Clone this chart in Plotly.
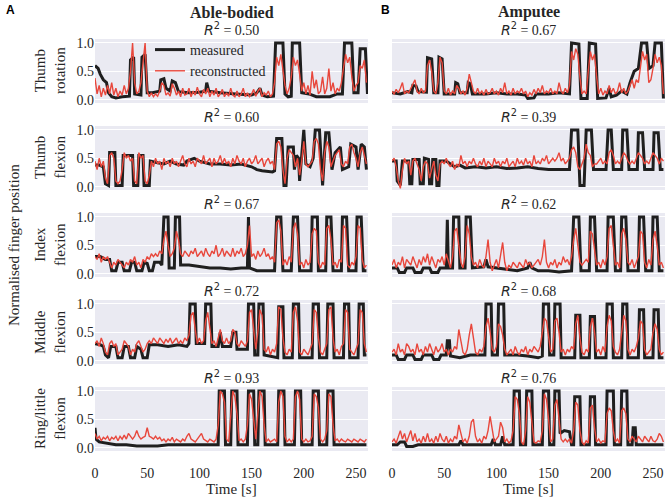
import plotly.graph_objects as go

# sampling grid of the reconstructed traces (seconds)
T = list(range(0, 261, 2))

ROW_LABELS = ["Thumb<br>rotation", "Thumb<br>flexion", "Index<br>flexion",
              "Middle<br>flexion", "Ring/little<br>flexion"]
R2_ABLE = ["0.50", "0.60", "0.67", "0.72", "0.93"]
R2_AMP = ["0.67", "0.39", "0.62", "0.68", "0.76"]
X_TICKS = [0, 50, 100, 150, 200, 250]
Y_TICKS = [0.0, 0.5, 1.0]

# measured: (time, value) breakpoints of the recorded glove signal
able_rot_meas = [(0, 0.6), (3, 0.55), (5, 0.45), (8, 0.35), (11, 0.3), (13, 0.12), (16, 0.05), (20, 0.03), (26, 0.05),
                 (33, 0.06), (34, 0.7), (37, 0.75), (38, 0.1), (44, 0.08), (45, 0.75), (48, 0.8), (50, 0.12), (55, 0.12),
                 (62, 0.15), (63, 0.35), (66, 0.37), (68, 0.2), (72, 0.15), (74, 0.33), (77, 0.3), (80, 0.14), (90, 0.12),
                 (100, 0.13), (106, 0.15), (107, 0.3), (109, 0.15), (120, 0.12), (135, 0.1), (145, 0.08), (150, 0.08),
                 (155, 0.12), (158, 0.2), (160, 0.08), (165, 0.05), (171, 0.06), (173, 1.0), (180, 1.0), (182, 0.1),
                 (185, 0.05), (188, 0.06), (189, 1.0), (196, 1.0), (198, 0.12), (205, 0.1), (212, 0.05), (225, 0.05),
                 (232, 0.1), (237, 0.1), (239, 1.0), (246, 1.0), (248, 0.12), (252, 0.12), (254, 0.9), (259, 0.9), (261, 0.1)]
able_rot_rec = [0.38, 0.10, 0.25, 0.05, 0.20, 0.08, 0.25, 0.10, 0.30, 0.08,
                0.20, 0.05, 0.15, 0.08, 0.25, 0.10, 0.20, 0.50, 1.00, 0.30,
                0.10, 0.15, 0.30, 0.70, 1.00, 0.15, 0.05, 0.12, 0.05, 0.10,
                0.06, 0.15, 0.30, 0.25, 0.08, 0.12, 0.06, 0.28, 0.20, 0.08,
                0.15, 0.05, 0.20, 0.08, 0.10, 0.20, 0.05, 0.15, 0.08, 0.22,
                0.10, 0.05, 0.18, 0.10, 0.20, 0.05, 0.15, 0.08, 0.20, 0.05,
                0.10, 0.18, 0.05, 0.12, 0.06, 0.20, 0.08, 0.05, 0.15, 0.05,
                0.10, 0.20, 0.05, 0.12, 0.05, 0.10, 0.18, 0.06, 0.15, 0.20,
                0.05, 0.12, 0.08, 0.15, 0.05, 0.10, 0.30, 0.75, 0.60, 0.80,
                0.50, 0.25, 0.10, 0.20, 0.40, 0.75, 0.60, 0.70, 0.45, 0.15,
                0.30, 0.10, 0.25, 0.08, 0.50, 0.20, 0.35, 0.10, 0.15, 0.40,
                0.10, 0.20, 0.55, 0.15, 0.30, 0.10, 0.20, 0.15, 0.30, 0.60,
                0.80, 0.65, 0.75, 0.40, 0.15, 0.25, 0.30, 0.60, 0.55, 0.70,
                0.30]

amp_rot_meas = [(0, 0.12), (8, 0.1), (15, 0.14), (19, 0.12), (20, 0.25), (23, 0.24), (25, 0.14), (33, 0.13), (34, 0.74),
                (38, 0.72), (40, 0.12), (44, 0.12), (45, 0.75), (48, 0.72), (50, 0.1), (60, 0.1), (61, 0.3), (63, 0.28),
                (65, 0.12), (72, 0.12), (73, 0.3), (75, 0.28), (77, 0.1), (90, 0.1), (100, 0.12), (110, 0.1), (120, 0.1),
                (128, 0.08), (130, 0.02), (136, 0.03), (138, 0.1), (150, 0.1), (160, 0.12), (170, 0.1), (172, 1.0),
                (179, 0.98), (181, 0.02), (187, 0.02), (189, 1.0), (195, 0.98), (197, 0.02), (205, 0.03), (208, 0.2),
                (210, 0.05), (215, 0.08), (220, 0.15), (225, 0.1), (228, 0.3), (232, 0.5), (236, 0.55), (239, 1.0),
                (244, 1.0), (246, 0.55), (250, 0.6), (252, 1.0), (258, 1.0), (260, 0.02)]
amp_rot_rec = [0.15, 0.10, 0.18, 0.12, 0.20, 0.30, 0.10, 0.15, 0.12, 0.20,
               0.30, 0.35, 0.15, 0.10, 0.20, 0.12, 0.15, 0.60, 0.70, 0.50,
               0.15, 0.10, 0.30, 0.75, 0.65, 0.15, 0.10, 0.20, 0.08, 0.15,
               0.10, 0.25, 0.20, 0.10, 0.15, 0.08, 0.20, 0.45, 0.30, 0.15,
               0.10, 0.20, 0.10, 0.15, 0.08, 0.18, 0.10, 0.12, 0.20, 0.10,
               0.15, 0.08, 0.20, 0.12, 0.30, 0.10, 0.15, 0.08, 0.20, 0.10,
               0.15, 0.12, 0.20, 0.10, 0.15, 0.05, 0.12, 0.08, 0.18, 0.10,
               0.20, 0.12, 0.25, 0.10, 0.15, 0.12, 0.20, 0.10, 0.15, 0.10,
               0.30, 0.15, 0.10, 0.20, 0.12, 0.25, 0.85, 0.70, 0.90, 0.80,
               0.40, 0.10, 0.15, 0.10, 0.50, 0.85, 0.70, 0.80, 0.40, 0.10,
               0.20, 0.08, 0.15, 0.10, 0.25, 0.12, 0.20, 0.10, 0.15, 0.30,
               0.12, 0.20, 0.10, 0.15, 0.25, 0.35, 0.20, 0.35, 0.30, 0.60,
               0.85, 0.70, 0.80, 0.30, 0.35, 0.55, 0.80, 0.65, 0.75, 0.60,
               0.10]

able_tfl_meas = [(0, 0.38), (4, 0.38), (8, 0.35), (10, 0.05), (13, 0.02), (14, 0.6), (19, 0.6), (20, 0.02), (26, 0.02),
                 (27, 0.55), (36, 0.55), (37, 0.02), (41, 0.02), (42, 0.55), (46, 0.55), (47, 0.02), (52, 0.02),
                 (53, 0.45), (60, 0.42), (66, 0.4), (72, 0.45), (78, 0.4), (85, 0.38), (88, 0.45), (95, 0.5), (100, 0.45),
                 (110, 0.4), (120, 0.4), (130, 0.38), (140, 0.4), (150, 0.35), (155, 0.3), (160, 0.28), (170, 0.26),
                 (172, 0.28), (174, 0.85), (179, 0.85), (181, 0.02), (183, 0.02), (185, 0.7), (190, 0.7), (191, 0.3),
                 (193, 0.55), (195, 0.5), (196, 0.1), (198, 0.5), (200, 1.0), (202, 0.4), (206, 0.35), (209, 0.5),
                 (211, 1.0), (215, 1.0), (218, 0.02), (221, 0.95), (224, 0.95), (227, 0.3), (230, 0.6), (235, 0.7),
                 (237, 0.3), (243, 0.35), (245, 0.75), (250, 0.7), (252, 0.3), (255, 0.75), (258, 0.7), (260, 0.3)]
able_tfl_rec = [0.45, 0.30, 0.50, 0.35, 0.45, 0.15, 0.05, 0.55, 0.60, 0.50,
                0.10, 0.05, 0.10, 0.30, 0.60, 0.50, 0.55, 0.45, 0.50, 0.10,
                0.05, 0.60, 0.50, 0.55, 0.10, 0.05, 0.20, 0.45, 0.35, 0.50,
                0.40, 0.45, 0.30, 0.50, 0.40, 0.45, 0.35, 0.50, 0.40, 0.45,
                0.35, 0.45, 0.55, 0.40, 0.35, 0.50, 0.40, 0.45, 0.35, 0.50,
                0.45, 0.40, 0.55, 0.40, 0.45, 0.50, 0.35, 0.50, 0.40, 0.45,
                0.55, 0.40, 0.50, 0.40, 0.45, 0.35, 0.50, 0.40, 0.55, 0.45,
                0.40, 0.50, 0.35, 0.45, 0.50, 0.40, 0.45, 0.55, 0.40, 0.45,
                0.50, 0.35, 0.45, 0.50, 0.40, 0.45, 0.30, 0.75, 0.80, 0.70,
                0.30, 0.05, 0.50, 0.65, 0.60, 0.55, 0.35, 0.50, 0.20, 0.45,
                0.80, 0.40, 0.35, 0.40, 0.45, 0.80, 0.85, 0.75, 0.30, 0.10,
                0.60, 0.80, 0.70, 0.35, 0.45, 0.55, 0.60, 0.65, 0.40, 0.35,
                0.45, 0.40, 0.70, 0.75, 0.60, 0.50, 0.35, 0.60, 0.70, 0.55,
                0.40]

amp_tfl_meas = [(0, 0.45), (4, 0.45), (5, 0.1), (8, 0.02), (10, 0.45), (16, 0.45), (17, 0.05), (19, 0.05), (20, 0.48),
                (26, 0.48), (27, 0.05), (30, 0.05), (31, 0.5), (35, 0.48), (36, 0.05), (38, 0.05), (39, 0.48), (42, 0.48),
                (43, 0.02), (45, 0.02), (46, 0.45), (52, 0.45), (56, 0.4), (60, 0.35), (65, 0.38), (70, 0.33), (80, 0.35),
                (90, 0.33), (100, 0.35), (110, 0.32), (120, 0.33), (130, 0.35), (140, 0.32), (150, 0.3), (160, 0.3),
                (170, 0.3), (172, 1.0), (178, 1.0), (180, 0.02), (184, 0.02), (186, 1.0), (191, 1.0), (193, 0.3),
                (205, 0.3), (207, 1.0), (210, 1.0), (212, 0.3), (220, 0.3), (221, 1.0), (225, 1.0), (227, 0.3),
                (235, 0.3), (236, 0.95), (240, 0.95), (242, 0.3), (250, 0.3), (251, 0.95), (255, 0.95), (257, 0.3),
                (260, 0.3)]
amp_tfl_rec = [0.45, 0.50, 0.35, 0.10, -0.03, 0.30, 0.50, 0.40, 0.45, 0.20,
               0.45, 0.50, 0.40, 0.30, 0.10, 0.35, 0.45, 0.40, 0.15, 0.30,
               0.45, 0.20, 0.10, 0.40, 0.45, 0.40, 0.50, 0.40, 0.35, 0.45,
               0.30, 0.40, 0.35, 0.55, 0.40, 0.45, 0.35, 0.45, 0.40, 0.50,
               0.40, 0.35, 0.45, 0.38, 0.50, 0.35, 0.45, 0.40, 0.35, 0.50,
               0.40, 0.45, 0.35, 0.45, 0.40, 0.50, 0.35, 0.40, 0.45, 0.35,
               0.50, 0.40, 0.45, 0.38, 0.50, 0.40, 0.45, 0.35, 0.55, 0.40,
               0.45, 0.40, 0.50, 0.45, 0.55, 0.40, 0.45, 0.50, 0.45, 0.50,
               0.60, 0.45, 0.50, 0.40, 0.45, 0.50, 0.65, 0.70, 0.60, 0.35,
               0.30, 0.40, 0.50, 0.75, 0.60, 0.55, 0.35, 0.40, 0.40, 0.45,
               0.50, 0.40, 0.45, 0.40, 0.60, 0.65, 0.55, 0.40, 0.45, 0.40,
               0.50, 0.60, 0.55, 0.45, 0.40, 0.45, 0.40, 0.50, 0.60, 0.55,
               0.50, 0.40, 0.45, 0.40, 0.50, 0.60, 0.55, 0.50, 0.40, 0.50,
               0.45]

able_idx_meas = [(0, 0.3), (5, 0.3), (10, 0.25), (14, 0.25), (16, 0.05), (20, 0.05), (22, 0.2), (26, 0.2), (28, 0.05),
                 (33, 0.05), (35, 0.2), (38, 0.2), (40, 0.05), (45, 0.05), (47, 0.2), (50, 0.18), (52, 0.05), (55, 0.05),
                 (57, 0.2), (62, 0.2), (64, 0.15), (66, 1.0), (70, 1.0), (71, 0.1), (76, 0.1), (77, 1.0), (81, 1.0),
                 (82, 0.15), (90, 0.15), (100, 0.12), (110, 0.1), (120, 0.1), (130, 0.08), (140, 0.1), (146, 0.1),
                 (147, 1.0), (148, 0.1), (155, 0.05), (165, 0.05), (172, 0.05), (174, 1.0), (178, 1.0), (180, 0.05),
                 (188, 0.05), (190, 1.0), (194, 1.0), (196, 0.05), (207, 0.05), (208, 1.0), (213, 1.0), (214, 0.05),
                 (221, 0.05), (222, 1.0), (226, 1.0), (228, 0.05), (236, 0.05), (237, 1.0), (241, 1.0), (243, 0.05),
                 (250, 0.05), (251, 1.0), (255, 1.0), (257, 0.05), (260, 0.05)]
able_idx_rec = [0.30, 0.25, 0.35, 0.20, 0.30, 0.25, 0.30, 0.20, 0.10, 0.20,
                0.15, 0.25, 0.20, 0.15, 0.10, 0.20, 0.15, 0.25, 0.20, 0.30,
                0.15, 0.20, 0.10, 0.25, 0.20, 0.30, 0.25, 0.35, 0.30, 0.35,
                0.30, 0.40, 0.35, 0.60, 0.75, 0.50, 0.30, 0.35, 0.45, 0.75,
                0.60, 0.35, 0.30, 0.40, 0.35, 0.30, 0.40, 0.35, 0.45, 0.30,
                0.35, 0.40, 0.30, 0.45, 0.35, 0.30, 0.40, 0.35, 0.50, 0.30,
                0.35, 0.45, 0.30, 0.40, 0.35, 0.30, 0.45, 0.30, 0.40, 0.35,
                0.45, 0.30, 0.35, 0.50, 0.85, 0.30, 0.35, 0.25, 0.40, 0.30,
                0.35, 0.45, 0.30, 0.35, 0.25, 0.30, 0.20, 0.90, 0.95, 0.75,
                0.15, 0.25, 0.15, 0.30, 0.20, 0.80, 0.90, 0.70, 0.15, 0.20,
                0.10, 0.25, 0.15, 0.20, 0.70, 0.80, 0.75, 0.20, 0.10, 0.20,
                0.15, 0.80, 0.85, 0.60, 0.15, 0.20, 0.10, 0.25, 0.20, 0.85,
                0.80, 0.15, 0.10, 0.20, 0.15, 0.30, 0.85, 0.80, 0.25, 0.10,
                0.15]

amp_idx_meas = [(0, 0.1), (5, 0.1), (7, 0.02), (12, 0.02), (14, 0.1), (20, 0.1), (22, 0.02), (28, 0.02), (30, 0.1),
                (36, 0.1), (38, 0.02), (44, 0.02), (46, 0.1), (52, 0.1), (53, 0.95), (54, 0.1), (58, 0.1), (59, 1.0),
                (64, 1.0), (65, 0.1), (70, 0.1), (71, 1.0), (75, 1.0), (77, 0.1), (88, 0.12), (90, 0.25), (92, 0.12),
                (100, 0.1), (110, 0.08), (120, 0.05), (130, 0.1), (132, 0.2), (134, 0.1), (140, 0.05), (150, 0.05),
                (160, 0.03), (172, 0.05), (174, 1.0), (179, 1.0), (181, 0.05), (189, 0.05), (190, 1.0), (194, 1.0),
                (196, 0.05), (206, 0.05), (207, 1.0), (212, 1.0), (214, 0.05), (219, 0.05), (220, 1.0), (224, 1.0),
                (226, 0.05), (236, 0.05), (237, 1.0), (241, 1.0), (243, 0.05), (249, 0.05), (250, 1.0), (254, 1.0),
                (256, 0.05), (260, 0.05)]
amp_idx_rec = [0.15, 0.25, 0.10, 0.20, 0.15, 0.30, 0.10, 0.25, 0.20, 0.15,
               0.30, 0.20, 0.10, 0.25, 0.15, 0.30, 0.20, 0.35, 0.15, 0.30,
               0.20, 0.10, 0.25, 0.20, 0.30, 0.15, 0.35, 0.20, 0.10, 0.30,
               0.75, 0.80, 0.50, 0.20, 0.10, 0.30, 0.85, 0.70, 0.30, 0.15,
               0.20, 0.10, 0.25, 0.15, 0.10, 0.30, 0.60, 0.20, 0.05, 0.15,
               0.25, 0.10, 0.30, 0.55, 0.20, 0.05, 0.15, 0.10, 0.20, 0.15,
               0.10, 0.20, 0.15, 0.10, 0.25, 0.15, 0.20, 0.10, 0.15, 0.20,
               0.25, 0.15, 0.30, 0.60, 0.20, 0.10, 0.20, 0.15, 0.25, 0.10,
               0.20, 0.15, 0.30, 0.20, 0.25, 0.15, 0.30, 0.60, 0.80, 0.50,
               0.20, 0.15, 0.20, 0.25, 0.20, 0.75, 0.70, 0.40, 0.15, 0.20,
               0.10, 0.25, 0.15, 0.30, 0.80, 0.85, 0.50, 0.15, 0.20, 0.10,
               0.70, 0.80, 0.60, 0.20, 0.15, 0.25, 0.10, 0.20, 0.30, 0.75,
               0.70, 0.20, 0.10, 0.25, 0.15, 0.60, 0.75, 0.50, 0.15, 0.20,
               0.10]

able_mid_meas = [(0, 0.3), (5, 0.28), (8, 0.25), (10, 0.1), (13, 0.05), (15, 0.25), (20, 0.25), (22, 0.05), (26, 0.05),
                 (28, 0.25), (32, 0.25), (34, 0.05), (38, 0.05), (40, 0.25), (44, 0.2), (46, 0.05), (50, 0.05),
                 (52, 0.28), (60, 0.28), (70, 0.25), (80, 0.28), (88, 0.25), (90, 0.3), (91, 1.0), (96, 1.0), (97, 0.3),
                 (105, 0.3), (106, 1.0), (111, 1.0), (112, 0.25), (118, 0.25), (120, 0.5), (122, 0.25), (130, 0.25),
                 (132, 0.5), (135, 0.5), (136, 0.2), (146, 0.2), (147, 1.0), (152, 1.0), (153, 0.1), (156, 0.1),
                 (157, 1.0), (161, 1.0), (162, 0.1), (175, 0.05), (176, 0.95), (180, 0.95), (181, 0.05), (189, 0.05),
                 (190, 1.0), (195, 1.0), (196, 0.05), (208, 0.05), (209, 1.0), (214, 1.0), (215, 0.05), (222, 0.05),
                 (223, 1.0), (228, 1.0), (229, 0.05), (238, 0.05), (239, 1.0), (243, 1.0), (244, 0.05), (252, 0.05),
                 (253, 1.0), (257, 1.0), (258, 0.1), (260, 0.1)]
able_mid_rec = [0.30, 0.35, 0.25, 0.40, 0.30, 0.15, 0.10, 0.30, 0.35, 0.25,
                0.30, 0.10, 0.15, 0.20, 0.35, 0.30, 0.25, 0.10, 0.20, 0.15,
                0.30, 0.35, 0.25, 0.15, 0.20, 0.30, 0.35, 0.30, 0.40, 0.35,
                0.30, 0.40, 0.35, 0.30, 0.38, 0.32, 0.40, 0.30, 0.35, 0.40,
                0.30, 0.35, 0.30, 0.40, 0.35, 0.45, 0.80, 0.85, 0.55, 0.30,
                0.40, 0.30, 0.35, 0.70, 0.85, 0.60, 0.30, 0.35, 0.25, 0.40,
                0.55, 0.35, 0.30, 0.40, 0.30, 0.35, 0.55, 0.50, 0.30, 0.25,
                0.35, 0.30, 0.25, 0.35, 0.85, 0.90, 0.60, 0.20, 0.50, 0.90,
                0.80, 0.20, 0.15, 0.25, 0.10, 0.20, 0.15, 0.30, 0.95, 0.90,
                0.40, 0.15, 0.10, 0.20, 0.15, 0.85, 0.95, 0.70, 0.15, 0.10,
                0.20, 0.15, 0.10, 0.20, 0.30, 0.90, 0.85, 0.40, 0.15, 0.10,
                0.20, 0.30, 0.90, 0.95, 0.40, 0.15, 0.20, 0.10, 0.25, 0.30,
                0.90, 0.85, 0.20, 0.15, 0.10, 0.20, 0.30, 0.90, 0.85, 0.30,
                0.15]

amp_mid_meas = [(0, 0.1), (4, 0.1), (6, 0.02), (12, 0.02), (14, 0.1), (20, 0.1), (22, 0.02), (28, 0.02), (30, 0.1),
                (38, 0.1), (40, 0.02), (45, 0.02), (47, 0.1), (52, 0.1), (53, 0.35), (55, 0.35), (56, 0.08), (65, 0.05),
                (75, 0.1), (85, 0.1), (89, 0.1), (90, 1.0), (95, 1.0), (96, 0.1), (101, 0.1), (102, 1.0), (107, 1.0),
                (108, 0.1), (120, 0.1), (130, 0.08), (140, 0.05), (144, 0.08), (145, 1.0), (150, 1.0), (151, 0.1),
                (155, 0.1), (156, 1.0), (161, 1.0), (162, 0.05), (175, 0.05), (176, 0.8), (180, 0.8), (181, 0.05),
                (189, 0.05), (190, 0.78), (194, 0.78), (195, 0.05), (205, 0.05), (206, 1.0), (211, 1.0), (212, 0.05),
                (220, 0.05), (221, 1.0), (225, 1.0), (226, 0.05), (236, 0.05), (237, 0.9), (241, 0.9), (242, 0.05),
                (250, 0.05), (251, 0.9), (255, 0.9), (256, 0.05), (260, 0.05)]
amp_mid_rec = [0.15, 0.20, 0.10, 0.30, 0.15, 0.20, 0.10, 0.30, 0.25, 0.15,
               0.20, 0.10, 0.30, 0.15, 0.20, 0.10, 0.25, 0.15, 0.30, 0.20,
               0.10, 0.25, 0.15, 0.20, 0.30, 0.15, 0.20, 0.10, 0.20, 0.15,
               0.25, 0.20, 0.55, 0.35, 0.15, 0.10, 0.20, 0.45, 0.65, 0.40,
               0.15, 0.10, 0.20, 0.15, 0.25, 0.60, 0.75, 0.50, 0.20, 0.15,
               0.25, 0.65, 0.60, 0.45, 0.20, 0.10, 0.15, 0.20, 0.10, 0.25,
               0.15, 0.10, 0.20, 0.15, 0.25, 0.10, 0.20, 0.15, 0.25, 0.20,
               0.15, 0.25, 0.50, 0.75, 0.70, 0.40, 0.15, 0.20, 0.70, 0.75,
               0.50, 0.15, 0.20, 0.10, 0.20, 0.15, 0.25, 0.20, 0.65, 0.80,
               0.40, 0.15, 0.10, 0.20, 0.15, 0.60, 0.75, 0.50, 0.15, 0.20,
               0.10, 0.25, 0.15, 0.60, 0.80, 0.70, 0.25, 0.15, 0.10, 0.20,
               0.55, 0.80, 0.70, 0.20, 0.10, 0.20, 0.15, 0.25, 0.40, 0.70,
               0.65, 0.20, 0.10, 0.15, 0.20, 0.50, 0.65, 0.55, 0.20, 0.10,
               0.15]

able_ring_meas = [(0, 0.35), (1, 0.15), (4, 0.1), (10, 0.08), (20, 0.05), (30, 0.05), (40, 0.03), (50, 0.03), (60, 0.03),
                  (70, 0.05), (80, 0.05), (90, 0.05), (100, 0.05), (110, 0.05), (118, 0.05), (119, 1.0), (124, 1.0),
                  (125, 0.05), (130, 0.05), (131, 1.0), (136, 1.0), (137, 0.05), (146, 0.05), (147, 1.0), (152, 1.0),
                  (153, 0.05), (156, 0.05), (157, 1.0), (162, 1.0), (163, 0.05), (175, 0.05), (176, 1.0), (181, 1.0),
                  (182, 0.05), (191, 0.05), (192, 1.0), (197, 1.0), (198, 0.05), (208, 0.05), (209, 1.0), (214, 1.0),
                  (215, 0.05), (222, 0.05), (223, 1.0), (228, 1.0), (229, 0.05), (260, 0.05)]
able_ring_rec = [0.25, 0.15, 0.20, 0.12, 0.18, 0.15, 0.20, 0.12, 0.18, 0.15,
                 0.20, 0.12, 0.20, 0.15, 0.22, 0.15, 0.25, 0.20, 0.15, 0.20,
                 0.30, 0.20, 0.15, 0.18, 0.20, 0.35, 0.20, 0.18, 0.15, 0.20,
                 0.15, 0.18, 0.12, 0.15, 0.10, 0.15, 0.12, 0.18, 0.10, 0.15,
                 0.12, 0.10, 0.15, 0.12, 0.20, 0.25, 0.15, 0.12, 0.10, 0.15,
                 0.20, 0.25, 0.15, 0.12, 0.10, 0.15, 0.12, 0.10, 0.15, 0.40,
                 1.00, 0.95, 0.80, 0.15, 0.10, 0.50, 1.00, 0.90, 0.60, 0.12,
                 0.15, 0.10, 0.15, 0.40, 0.95, 0.85, 0.50, 0.15, 0.60, 1.00,
                 0.90, 0.40, 0.10, 0.15, 0.10, 0.12, 0.15, 0.10, 0.80, 1.00,
                 0.90, 0.20, 0.10, 0.15, 0.10, 0.15, 0.90, 1.00, 0.85, 0.15,
                 0.10, 0.15, 0.10, 0.12, 0.20, 0.95, 0.90, 0.70, 0.15, 0.10,
                 0.15, 0.30, 0.95, 0.90, 0.40, 0.12, 0.15, 0.10, 0.15, 0.12,
                 0.10, 0.15, 0.12, 0.10, 0.15, 0.12, 0.10, 0.15, 0.12, 0.10,
                 0.15]

amp_ring_meas = [(0, 0.05), (5, 0.05), (8, 0.1), (12, 0.1), (14, 0.02), (20, 0.02), (25, 0.05), (40, 0.05), (55, 0.05),
                 (64, 0.05), (66, 0.12), (68, 0.05), (80, 0.05), (95, 0.05), (97, 0.15), (99, 0.05), (104, 0.05),
                 (106, 0.2), (108, 0.05), (116, 0.05), (117, 1.0), (122, 1.0), (123, 0.05), (128, 0.05), (129, 1.0),
                 (134, 1.0), (135, 0.05), (144, 0.05), (145, 1.0), (150, 1.0), (151, 0.05), (155, 0.05), (156, 1.0),
                 (160, 1.0), (161, 0.25), (165, 0.3), (170, 0.28), (172, 0.05), (174, 0.05), (175, 0.9), (180, 0.9),
                 (181, 0.05), (189, 0.05), (190, 0.9), (194, 0.9), (195, 0.05), (205, 0.05), (206, 1.0), (212, 1.0),
                 (213, 0.05), (219, 0.05), (220, 1.0), (225, 1.0), (226, 0.05), (230, 0.05), (231, 0.35), (233, 0.35),
                 (234, 0.05), (245, 0.05), (255, 0.05), (260, 0.05)]
amp_ring_rec = [0.10, 0.15, 0.08, 0.20, 0.30, 0.15, 0.25, 0.10, 0.20, 0.30,
                0.12, 0.25, 0.10, 0.15, 0.08, 0.20, 0.10, 0.25, 0.10, 0.15,
                0.08, 0.20, 0.10, 0.25, 0.15, 0.10, 0.20, 0.08, 0.15, 0.10,
                0.20, 0.15, 0.40, 0.25, 0.10, 0.15, 0.08, 0.20, 0.45, 0.50,
                0.20, 0.10, 0.15, 0.08, 0.20, 0.15, 0.30, 0.55, 0.35, 0.10,
                0.15, 0.20, 0.45, 0.35, 0.10, 0.15, 0.08, 0.12, 0.30, 0.90,
                0.85, 0.60, 0.10, 0.05, 0.30, 0.90, 0.80, 0.50, 0.10, 0.08,
                0.12, 0.10, 0.30, 0.95, 0.85, 0.50, 0.10, 0.15, 0.75, 0.85,
                0.50, 0.15, 0.10, 0.15, 0.10, 0.15, 0.08, 0.30, 0.80, 0.75,
                0.30, 0.10, 0.05, 0.12, 0.08, 0.70, 0.75, 0.35, 0.10, 0.15,
                0.08, 0.12, 0.10, 0.60, 0.70, 0.65, 0.30, 0.10, 0.15, 0.08,
                0.65, 0.70, 0.60, 0.15, 0.10, 0.20, 0.15, 0.10, 0.20, 0.15,
                0.10, 0.20, 0.15, 0.10, 0.20, 0.12, 0.10, 0.15, 0.25, 0.20,
                0.10]

ABLE = [(able_rot_meas, able_rot_rec), (able_tfl_meas, able_tfl_rec), (able_idx_meas, able_idx_rec),
        (able_mid_meas, able_mid_rec), (able_ring_meas, able_ring_rec)]
AMP = [(amp_rot_meas, amp_rot_rec), (amp_tfl_meas, amp_tfl_rec), (amp_idx_meas, amp_idx_rec),
       (amp_mid_meas, amp_mid_rec), (amp_ring_meas, amp_ring_rec)]

SERIF = "Liberation Serif, Times New Roman, serif"
SANS = "Liberation Sans, Arial, sans-serif"
BLACK = "#1f1f1f"
RED = "#e8473c"
BG = "#eaeaf2"
TXT = "#262626"

W, H = 669, 499
COL_X = [(95, 368), (392, 665)]
ROW_TOP = [39, 126, 213, 300, 387]
ROW_H = 64

fig = go.Figure()
layout_axes = {}
annotations = []

for col, panels in enumerate([ABLE, AMP]):
    r2_vals = R2_ABLE if col == 0 else R2_AMP
    for row, (meas, rec) in enumerate(panels):
        k = row * 2 + col + 1
        xa = "x" if k == 1 else f"x{k}"
        ya = "y" if k == 1 else f"y{k}"
        first = k == 1
        fig.add_trace(go.Scatter(
            x=[p[0] for p in meas], y=[p[1] for p in meas], mode="lines",
            line=dict(color=BLACK, width=3), name="measured",
            showlegend=first, xaxis=xa, yaxis=ya,
        ))
        fig.add_trace(go.Scatter(
            x=T[:len(rec)], y=rec, mode="lines",
            line=dict(color=RED, width=1.4), name="reconstructed",
            showlegend=first, xaxis=xa, yaxis=ya,
        ))
        x0, x1 = COL_X[col]
        top = ROW_TOP[row]
        dom_y = [1 - (top + ROW_H) / H, 1 - top / H]
        last = row == 4
        layout_axes["xaxis" if k == 1 else f"xaxis{k}"] = dict(
            domain=[x0 / W, x1 / W], range=[0, 261.5], anchor=ya, automargin=False,
            showgrid=False, zeroline=False, showline=False,
            ticks="outside", ticklen=9, tickcolor="rgba(0,0,0,0)",
            tickvals=X_TICKS, showticklabels=last,
            tickfont=dict(family=SERIF, size=14, color=TXT),
        )
        layout_axes["yaxis" if k == 1 else f"yaxis{k}"] = dict(
            domain=dom_y, range=[-0.06, 1.07], anchor=xa, automargin=False,
            showgrid=True, gridcolor="white", gridwidth=1, zeroline=False, showline=False, ticks="",
            tickvals=Y_TICKS, ticktext=["0.0", "0.5", "1.0"], showticklabels=(col == 0),
            tickfont=dict(family=SERIF, size=14, color=TXT),
        )
        annotations.append(dict(
            text=f"<span style='font-family:DejaVu Sans'><i>R</i><sup>2</sup></span> = {r2_vals[row]}",
            x=(x0 + x1) / 2 / W, y=1 - top / H, xref="paper", yref="paper",
            xanchor="center", yanchor="bottom", yshift=-1, showarrow=False,
            font=dict(family=SERIF, size=14, color=TXT),
        ))
        if col == 0:
            annotations.append(dict(
                text=ROW_LABELS[row], x=50 / W, y=1 - (top + ROW_H / 2) / H,
                xref="paper", yref="paper", xanchor="center", yanchor="middle",
                textangle=-90, showarrow=False,
                font=dict(family=SERIF, size=15, color=TXT),
            ))
        if last:
            annotations.append(dict(
                text="Time [s]", x=(x0 + x1) / 2 / W, y=1 - 489 / H,
                xref="paper", yref="paper", xanchor="center", yanchor="middle",
                showarrow=False, font=dict(family=SERIF, size=15, color=TXT),
            ))

annotations += [
    dict(text="<b>Able-bodied</b>", x=231.5 / W, y=1 - 12 / H, xref="paper", yref="paper",
         xanchor="center", yanchor="middle", showarrow=False, font=dict(family=SERIF, size=16, color=TXT)),
    dict(text="<b>Amputee</b>", x=528.5 / W, y=1 - 12 / H, xref="paper", yref="paper",
         xanchor="center", yanchor="middle", showarrow=False, font=dict(family=SERIF, size=16, color=TXT)),
    dict(text="<b>A</b>", x=4 / W, y=1 - 10 / H, xref="paper", yref="paper",
         xanchor="left", yanchor="middle", showarrow=False, font=dict(family=SANS, size=12, color="black")),
    dict(text="<b>B</b>", x=379 / W, y=1 - 10 / H, xref="paper", yref="paper",
         xanchor="left", yanchor="middle", showarrow=False, font=dict(family=SANS, size=12, color="black")),
    dict(text="Normalised finger position", x=14 / W, y=1 - 245 / H, xref="paper", yref="paper",
         xanchor="center", yanchor="middle", textangle=-90, showarrow=False,
         font=dict(family=SERIF, size=15, color=TXT)),
]

fig.update_layout(
    width=W, height=H,
    margin=dict(l=0, r=0, t=0, b=0),
    paper_bgcolor="white", plot_bgcolor=BG,
    font=dict(family=SERIF, size=14, color=TXT),
    annotations=annotations,
    legend=dict(x=150 / W, y=1 - 34 / H, xanchor="left", yanchor="top",
                bgcolor="rgba(0,0,0,0)", font=dict(family=SERIF, size=14, color=TXT),
                itemwidth=30, tracegroupgap=0),
    **layout_axes,
)

# the page body keeps its default 8px margin otherwise, which pushes the figure off the window
fig.write_html("out.html", config={"displayModeBar": False},
               post_script="document.body.style.margin='0';")
